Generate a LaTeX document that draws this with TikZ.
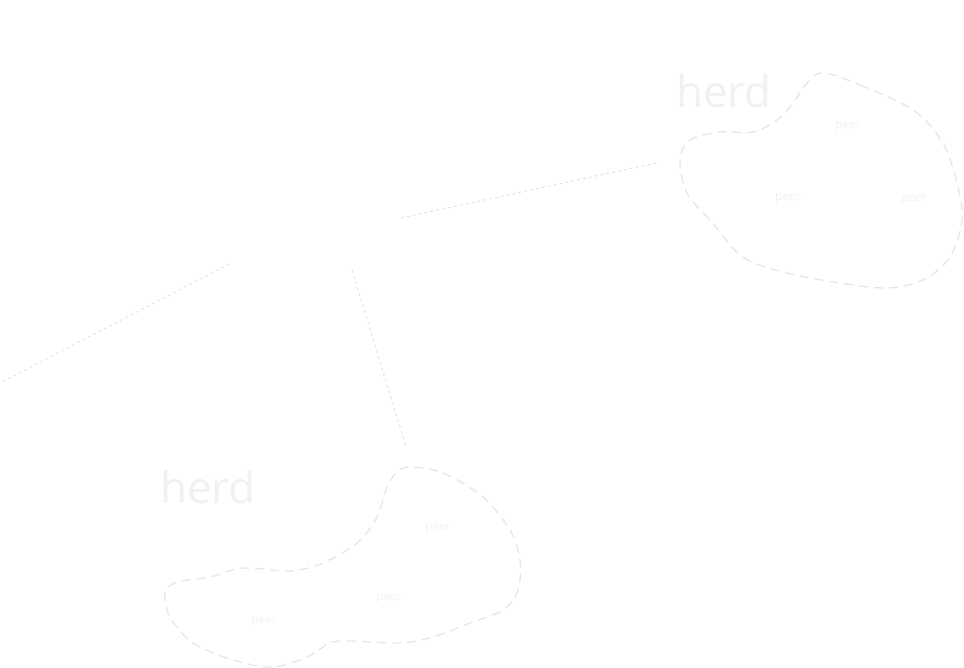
\documentclass[tikz,border=0pt]{standalone}
\usepackage{fontspec}
\setmainfont{Open Sans}
\begin{document}
\begin{tikzpicture}[x=1pt,y=-1pt,
  blob/.style={draw=blobgray,line width=1.3pt,dash pattern=on 9pt off 6pt},
  link/.style={draw=linkgray,line width=1pt,dash pattern=on 3pt off 3pt},
  herdlabel/.style={text=herdgray,font=\fontsize{44}{44}\selectfont,inner sep=0pt,anchor=base west},
  peerlabel/.style={text=peergray,font=\fontsize{12}{12}\selectfont,inner sep=0pt}]
\definecolor{blobgray}{HTML}{E6E6E6}
\definecolor{linkgray}{HTML}{E4E4E4}
\definecolor{herdgray}{HTML}{F1F1F1}
\definecolor{peergray}{HTML}{F2F2F2}
\useasboundingbox (0,0) rectangle (964,668);
% top-right herd
\draw[blob] plot[smooth cycle,tension=0.55] coordinates {
 (823,73) (860,85) (913,110) (943,143) (958,187) (962,220) (950,257) (923,280)
 (887,288) (840,283) (787,273) (743,257) (710,220) (687,193) (680,160) (690,140)
 (720,132) (753,132) (777,120) (793,103) (807,83)};
\node[herdlabel] (herdA) at (676,108) {herd};
\node[peerlabel] (peerA1) at (848,127) {peer};
\node[peerlabel] (peerA2) at (788,199) {peer};
\node[peerlabel] (peerA3) at (914,200) {peer};
% bottom-left herd
\draw[blob] plot[smooth cycle,tension=0.55] coordinates {
 (410,467) (443,473) (483,497) (510,530) (520,560) (518,590) (503,610) (470,623)
 (433,637) (400,643) (350,641) (330,643) (307,657) (273,667) (233,660) (193,643)
 (170,617) (165,593) (177,582) (210,577) (243,568) (290,571) (323,563) (357,543)
 (377,517) (387,487) (397,472)};
\node[herdlabel] (herdB) at (160,503) {herd};
\node[peerlabel] (peerB1) at (438,529) {peer};
\node[peerlabel] (peerB2) at (389,599) {peer};
\node[peerlabel] (peerB3) at (264,622) {peer};
% dotted links
\coordinate (l1a) at (401,218);
\coordinate (l1b) at (656,163);
\coordinate (l2a) at (229,264);
\coordinate (l2b) at (2,382);
\coordinate (l3a) at (352,270);
\coordinate (l3b) at (406,447);
\draw[link] (l1a) -- (l1b);
\draw[link] (l2a) -- (l2b);
\draw[link] (l3a) -- (l3b);
\end{tikzpicture}
\end{document}
